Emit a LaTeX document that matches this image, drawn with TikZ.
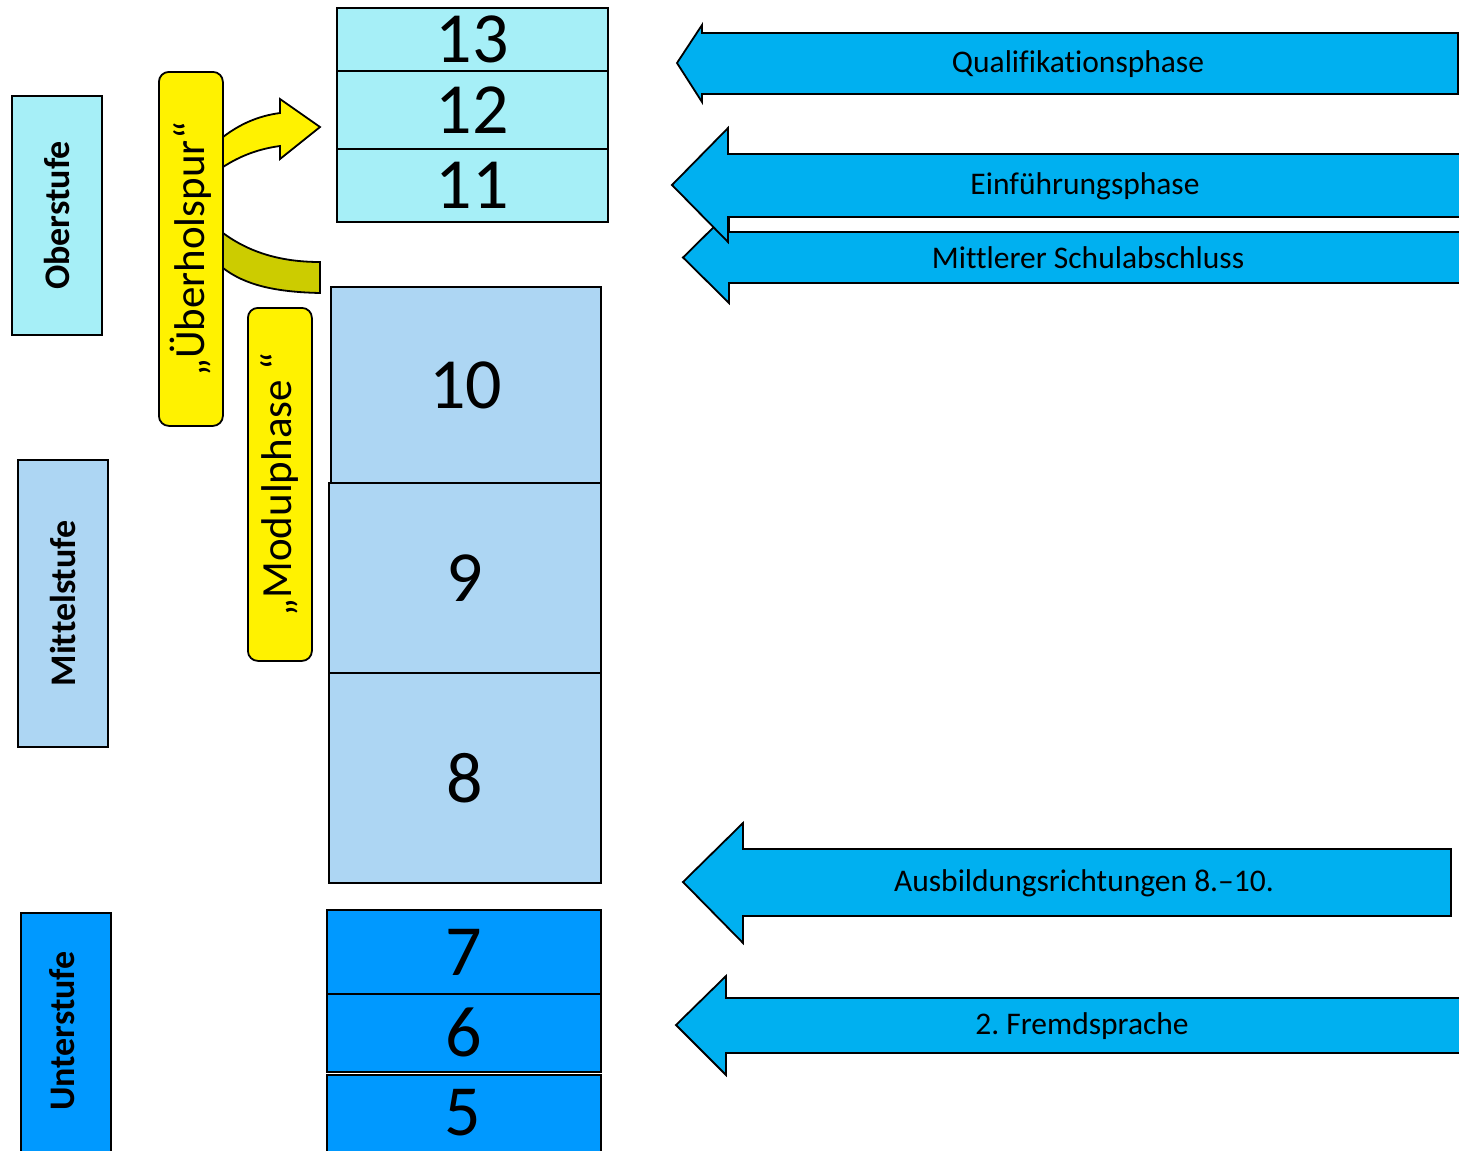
\documentclass[tikz,border=0pt]{standalone}
\usepackage{fontspec}
\setmainfont{Carlito}[Ligatures=NoCommon]
\definecolor{lcyan}{HTML}{A6EFF7}
\definecolor{lblue}{HTML}{ADD6F3}
\definecolor{dblue}{HTML}{0099FF}
\definecolor{arrblue}{HTML}{00B0F0}
\definecolor{olive}{HTML}{CCCC00}
\frenchspacing
\begin{document}
\begin{tikzpicture}[x=1pt,y=-1pt,
  outl/.style={draw=black, line width=1.8pt},
  gradebox/.style={outl, anchor=north west, inner sep=0pt, font=\fontsize{72}{72}\selectfont},
  gradetext/.style={inner sep=0pt, font=\fontsize{72}{72}\selectfont},
  stagebox/.style={outl, anchor=north west, inner sep=0pt},
  stagetext/.style={rotate=90, inner sep=0pt, font=\bfseries\fontsize{36}{36}\selectfont},
  ybox/.style={outl, fill=yellow, rounded corners=10pt, anchor=north west, inner sep=0pt},
  ytext/.style={rotate=90, inner sep=0pt, font=\fontsize{43}{43}\selectfont},
  arrshape/.style={outl, fill=arrblue, line join=miter},
  arrtext/.style={inner sep=0pt, font=\fontsize{31.5}{31.5}\selectfont}
]
\clip (0,0) rectangle (1459,1151);
\fill[white] (0,0) rectangle (1459,1151);

% stage boxes
\node[stagebox, fill=lcyan, minimum width=90pt, minimum height=239pt] (ober) at (11,95) {};
\node[stagetext] (obertext) at (ober.center) {Oberstufe};
\node[stagebox, fill=lblue, minimum width=90pt, minimum height=287pt] (mittel) at (17,459) {};
\node[stagetext] (mitteltext) at (mittel.center) {Mittelstufe};
\node[stagebox, fill=dblue, minimum width=90pt, minimum height=250pt] (unter) at (20,912) {};
\node[stagetext] (untertext) at (62,1031) {Unterstufe};

% olive band
\path[outl, fill=olive] (214,233) -- (223,233) .. controls (250,253) and (282,262) .. (320,262)
  -- (320,293) .. controls (275,292) and (245,285) .. (223,268) -- (214,268) -- cycle;
% yellow curved arrow
\path[outl, fill=yellow, line join=miter] (214,140) -- (223,137) .. controls (240,124) and (258,116) .. (280,113)
  -- (280,99) -- (320,127) -- (280,159) -- (280,146)
  .. controls (258,149) and (240,156) .. (223,167) -- (214,170) -- cycle;

% yellow boxes
\node[ybox, minimum width=64pt, minimum height=354pt] (ueber) at (158,71) {};
\node[ytext] (uebertext) at (ueber.center) {„Überholspur“};
\node[ybox, minimum width=64pt, minimum height=353pt] (modul) at (247,307) {};
\node[ytext] (modultext) at (modul.center) {„Modulphase “};

% grade boxes
\node[gradebox, fill=lcyan, minimum width=271pt, minimum height=63pt] (g13) at (336,7) {13};
\node[gradebox, fill=lcyan, minimum width=271pt, minimum height=78pt] (g12) at (336,70) {12};
\node[gradebox, fill=lcyan, minimum width=271pt, minimum height=73pt] (g11) at (336,148) {11};
\node[gradebox, fill=lblue, minimum width=270pt, minimum height=196pt] (g10) at (330,286) {10};
\node[gradebox, fill=lblue, minimum width=272pt, minimum height=190pt] (g9) at (328,482) {9};
\node[gradebox, fill=lblue, minimum width=272pt, minimum height=210pt] (g8) at (328,672) {8};
\node[gradebox, fill=dblue, minimum width=274pt, minimum height=84pt] (g7) at (326,909) {7};
\node[gradebox, fill=dblue, minimum width=274pt, minimum height=78pt] (g6) at (326,993) {6};
\node[gradebox, fill=dblue, minimum width=274pt, minimum height=90pt] (g5) at (326,1074) {};
\node[gradetext] (g5text) at (463,1113) {5};

% block arrows
\path[arrshape] (1458,33) -- (702,33) -- (702,25) -- (677,63) -- (702,102) -- (702,94) -- (1458,94) -- cycle;
\node[arrtext] (qual) at (1078,64) {Qualifikationsphase};

\path[arrshape] (1470,232) -- (729,232) -- (729,212) -- (683,257.5) -- (729,303) -- (729,283) -- (1470,283) -- cycle;
\node[arrtext] (mittl) at (1088,258) {Mittlerer Schulabschluss};

\path[arrshape] (1470,154) -- (728,154) -- (728,128) -- (672,185) -- (728,242) -- (728,217) -- (1470,217) -- cycle;
\node[arrtext] (einf) at (1085,186) {Einführungsphase};

\path[arrshape] (1451,849) -- (743,849) -- (743,823) -- (683,882) -- (743,943) -- (743,916) -- (1451,916) -- cycle;
\node[arrtext] (ausb) at (1084,883) {Ausbildungsrichtungen 8.–10.};

\path[arrshape] (1470,998) -- (726,998) -- (726,976) -- (676,1025) -- (726,1075) -- (726,1053) -- (1470,1053) -- cycle;
\node[arrtext] (fremd) at (1082,1026) {2. Fremdsprache};
\end{tikzpicture}
\end{document}
